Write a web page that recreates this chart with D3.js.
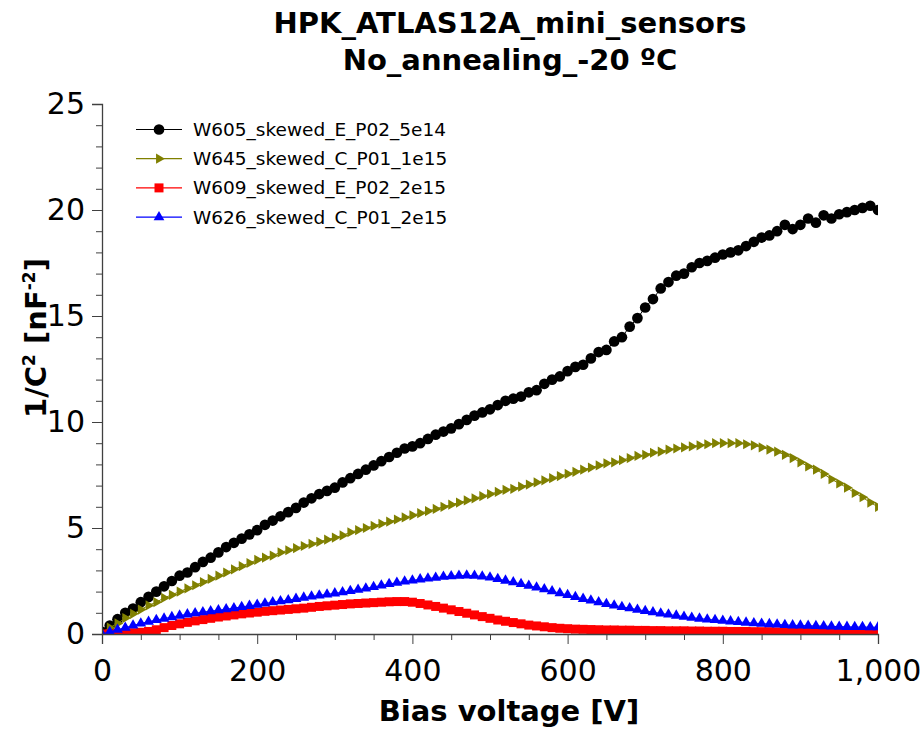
<!DOCTYPE html>
<html><head><meta charset="utf-8">
<script src="https://cdn.jsdelivr.net/npm/d3@7"></script>
<style>
body{margin:0;background:#fff;}
svg{display:block;}
</style></head>
<body>
<svg id="chart" width="921" height="731"></svg>
<script>
const voltages = d3.range(0, 1001, 10);
const seriesNames = ["W605_skewed_E_P02_5e14","W645_skewed_C_P01_1e15","W609_skewed_E_P02_2e15","W626_skewed_C_P01_2e15"];
const seriesColors = ["#000000","#808000","#ff0000","#0000ff"];
const seriesSymbols = ["circle","triangleRight","square","triangle"];
const w605 = [0.1,0.4,0.7,1.0,1.2,1.5,1.75,2.0,2.25,2.5,2.75,2.9,3.15,3.4,3.6,3.85,4.1,4.3,4.5,4.7,4.9,5.15,5.35,5.55,5.75,5.95,6.2,6.4,6.6,6.75,6.9,7.15,7.35,7.55,7.75,7.95,8.15,8.35,8.55,8.75,8.85,9.0,9.2,9.4,9.55,9.7,9.9,10.1,10.3,10.45,10.6,10.8,11.0,11.1,11.2,11.4,11.5,11.8,12.0,12.15,12.4,12.6,12.7,13.0,13.3,13.4,13.8,14.0,14.5,14.9,15.4,15.8,16.3,16.6,16.9,17.0,17.3,17.5,17.6,17.75,17.9,18.0,18.1,18.3,18.5,18.7,18.8,19.0,19.3,19.1,19.3,19.6,19.4,19.75,19.6,19.8,19.9,20.0,20.1,20.2,20.0];
const w645 = [0.05,0.3,0.5,0.75,0.95,1.15,1.35,1.5,1.7,1.85,2.0,2.15,2.3,2.45,2.6,2.75,2.9,3.05,3.2,3.35,3.5,3.6,3.7,3.85,3.95,4.05,4.15,4.25,4.35,4.45,4.55,4.65,4.8,4.9,5.0,5.1,5.2,5.3,5.4,5.5,5.6,5.7,5.8,5.9,6.0,6.1,6.2,6.3,6.4,6.5,6.6,6.7,6.8,6.85,6.95,7.05,7.15,7.25,7.35,7.45,7.55,7.65,7.75,7.85,7.95,8.05,8.1,8.2,8.3,8.4,8.45,8.55,8.6,8.7,8.75,8.8,8.85,8.9,8.95,9.0,9.0,9.0,9.0,8.95,8.9,8.8,8.7,8.6,8.45,8.3,8.1,7.9,7.75,7.55,7.3,7.1,6.9,6.65,6.45,6.2,6.0];
const w609 = [0.0,0.0,0.02,0.04,0.06,0.08,0.12,0.2,0.3,0.4,0.48,0.55,0.62,0.68,0.74,0.8,0.85,0.9,0.95,0.99,1.03,1.07,1.1,1.13,1.16,1.19,1.22,1.26,1.3,1.33,1.36,1.39,1.42,1.44,1.46,1.48,1.5,1.52,1.53,1.53,1.5,1.44,1.37,1.3,1.22,1.14,1.06,0.98,0.9,0.82,0.74,0.66,0.6,0.54,0.48,0.42,0.38,0.34,0.3,0.27,0.25,0.23,0.22,0.21,0.2,0.19,0.19,0.18,0.18,0.17,0.17,0.16,0.16,0.15,0.15,0.15,0.14,0.14,0.13,0.13,0.13,0.12,0.12,0.12,0.11,0.11,0.11,0.1,0.1,0.1,0.1,0.09,0.09,0.09,0.09,0.09,0.08,0.08,0.08,0.08,0.08];
const w626 = [0.0,0.1,0.2,0.3,0.4,0.5,0.58,0.66,0.73,0.8,0.87,0.93,0.98,1.03,1.08,1.12,1.17,1.22,1.28,1.33,1.38,1.44,1.5,1.55,1.6,1.66,1.72,1.77,1.82,1.87,1.92,1.97,2.03,2.09,2.15,2.22,2.29,2.36,2.42,2.48,2.53,2.58,2.62,2.66,2.7,2.73,2.75,2.76,2.75,2.72,2.67,2.6,2.52,2.44,2.36,2.28,2.2,2.11,2.02,1.93,1.84,1.75,1.66,1.58,1.5,1.42,1.35,1.28,1.22,1.15,1.09,1.03,0.97,0.92,0.87,0.82,0.77,0.73,0.69,0.66,0.63,0.6,0.57,0.54,0.51,0.49,0.47,0.45,0.43,0.41,0.4,0.39,0.38,0.37,0.36,0.35,0.34,0.33,0.33,0.32,0.32];
const seriesValues = [w605, w645, w609, w626];
const xMajorTicks = [0,200,400,600,800,1000];
const yMajorTicks = [0,5,10,15,20,25];
const titleLines = ["HPK_ATLAS12A_mini_sensors","No_annealing_-20 ºC"];
const xLabel = "Bias voltage [V]";

const svg = d3.select("#chart");
const x = d3.scaleLinear().domain([0,1000]).range([102,878]);
const y = d3.scaleLinear().domain([0,25]).range([634,104]);
const tickFont = "'DejaVu Sans', sans-serif";

// title
svg.selectAll("text.title").data(titleLines).join("text")
  .attr("class","title")
  .attr("x",510).attr("y",(d,i)=>33+i*37)
  .attr("text-anchor","middle")
  .style("font-family","'DejaVu Sans', sans-serif")
  .style("font-weight","bold").style("font-size","29px")
  .text(d=>d);

// clip
svg.append("clipPath").attr("id","clip").append("rect")
  .attr("x",102).attr("y",104).attr("width",776).attr("height",530);

// series
const symType = {circle:d3.symbolCircle, square:d3.symbolSquare, triangle:d3.symbolTriangle, triangleRight:d3.symbolTriangle};
const symSize = {circle:90, square:81, triangle:50, triangleRight:45};
const symRot = {circle:0, square:0, triangle:0, triangleRight:90};
const plot = svg.append("g").attr("clip-path","url(#clip)");
const line = d3.line().x(d=>x(d[0])).y(d=>y(d[1]));
seriesValues.forEach((vals,si)=>{
  const pts = vals.map((v,i)=>[voltages[i], v]);
  const g = plot.append("g");
  g.append("path").datum(pts).attr("d",line)
    .attr("fill","none").attr("stroke",seriesColors[si]).attr("stroke-width",1);
  const s = seriesSymbols[si];
  g.selectAll("path.m").data(pts).join("path").attr("class","m")
    .attr("d", d3.symbol().type(symType[s]).size(symSize[s]))
    .attr("transform", d=>`translate(${x(d[0])},${y(d[1])}) rotate(${symRot[s]})`)
    .attr("fill", seriesColors[si]);
});

// axes
const axisColor = "#404040";
svg.append("g").attr("transform","translate(102,0)")
  .call(d3.axisLeft(y).tickValues(yMajorTicks).tickSize(10).tickPadding(7));
svg.append("g").attr("transform","translate(102,0)")
  .call(d3.axisLeft(y).tickValues(d3.range(0,26,1).filter(v=>v%5!==0)).tickSize(6).tickFormat(""))
  .select(".domain").remove();
svg.append("g").attr("transform","translate(0,634)")
  .call(d3.axisBottom(x).tickValues(xMajorTicks).tickSize(10).tickPadding(16).tickFormat(d3.format(",")));
svg.append("g").attr("transform","translate(0,634)")
  .call(d3.axisBottom(x).tickValues(d3.range(0,1001,50).filter(v=>v%200!==0)).tickSize(6).tickFormat(""))
  .select(".domain").remove();
svg.selectAll(".domain").attr("stroke",axisColor).attr("stroke-width",1.3);
svg.selectAll(".tick line").attr("stroke",axisColor);
svg.selectAll(".tick text").style("font-family",tickFont)
  .style("font-size","30px").attr("fill","#000");

// axis labels
svg.append("text").attr("x",509).attr("y",721).attr("text-anchor","middle")
  .style("font-family","'DejaVu Sans', sans-serif").style("font-weight","bold").style("font-size","29px")
  .text(xLabel);
const yl = svg.append("text").attr("transform","translate(46,338) rotate(-90)").attr("text-anchor","middle")
  .style("font-family","'DejaVu Sans', sans-serif").style("font-weight","bold").style("font-size","29px");
yl.append("tspan").text("1/C");
yl.append("tspan").attr("dy",-11).style("font-size","17px").text("2");
yl.append("tspan").attr("dy",11).text(" [nF");
yl.append("tspan").attr("dy",-11).style("font-size","17px").text("-2");
yl.append("tspan").attr("dy",11).text("]");

// legend
const leg = svg.append("g");
seriesNames.forEach((name,i)=>{
  const ly = 129.5 + i*29.2;
  leg.append("line").attr("x1",136).attr("x2",182).attr("y1",ly).attr("y2",ly)
    .attr("stroke",seriesColors[i]).attr("stroke-width",1.2);
  const s = seriesSymbols[i];
  leg.append("path").attr("d",d3.symbol().type(symType[s]).size(symSize[s]))
    .attr("transform",`translate(159,${ly}) rotate(${symRot[s]})`).attr("fill",seriesColors[i]);
  leg.append("text").attr("x",193).attr("y",ly).attr("dominant-baseline","central")
    .style("font-family","'DejaVu Sans', sans-serif")
    .style("font-size","18.5px").text(name);
});
</script>
</body></html>
